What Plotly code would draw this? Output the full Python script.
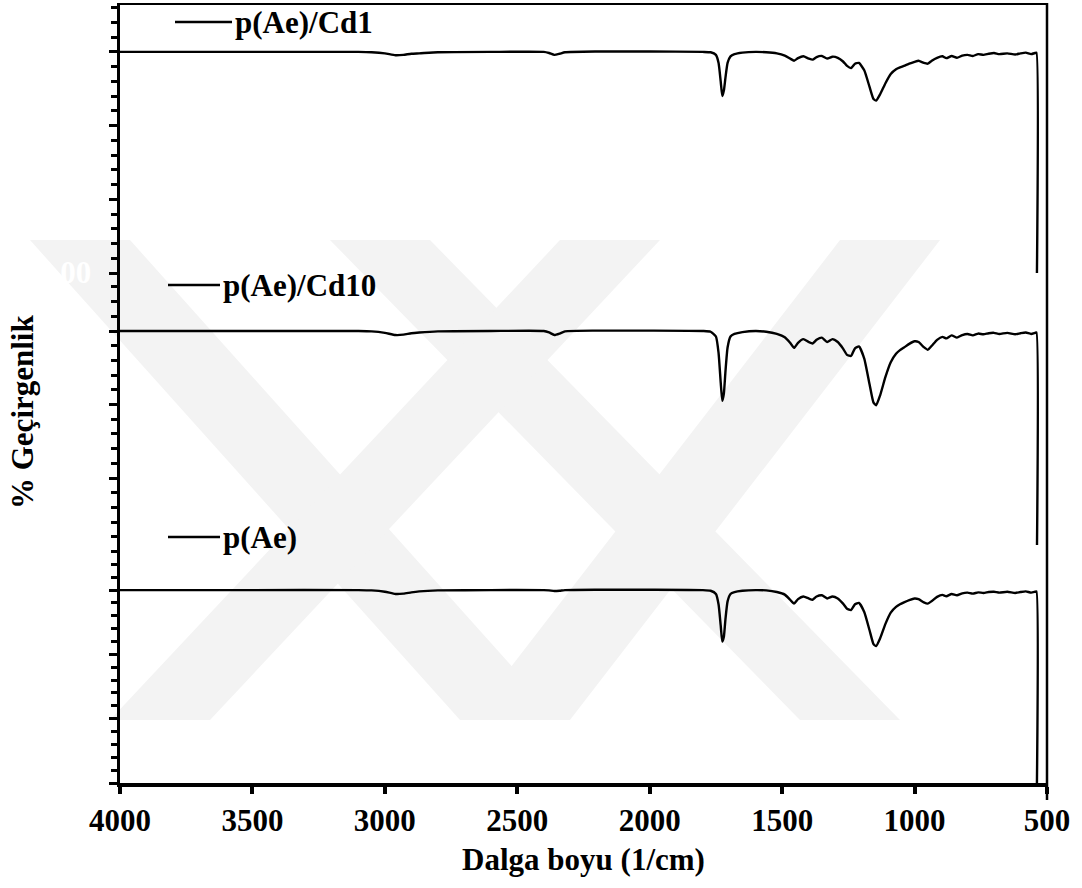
import plotly.graph_objects as go

# ---------------- data ----------------
wavenumber = [4000, 3500, 3100, 3050, 3000, 2960, 2930, 2900, 2870, 2800, 2600, 2400, 2380, 2360, 2340, 2320,
              2200, 2000, 1800, 1770, 1750, 1740, 1732, 1726, 1720, 1714, 1706, 1695, 1680, 1650, 1600, 1560,
              1520, 1490, 1470, 1455, 1440, 1420, 1400, 1385, 1370, 1350, 1330, 1310, 1290, 1270, 1255, 1240,
              1225, 1210, 1190, 1170, 1155, 1145, 1130, 1110, 1090, 1070, 1055, 1040, 1020, 1000, 985, 965,
              950, 935, 915, 895, 880, 860, 840, 820, 800, 780, 760, 740, 720, 700, 680, 650, 620, 600, 580,
              560, 545, 540, 538]

t_cd1 = [100, 100, 100, 99.9, 99.6, 99.1, 99.2, 99.5, 99.6, 99.9, 100, 100, 99.7, 99.2, 99.5, 99.9,
         100.1, 100.1, 100, 99.9, 99.2, 97, 92, 88, 89.5, 93, 97, 98.8, 99.4, 99.8, 100, 99.9,
         99.6, 99, 98.2, 97.6, 98.3, 98.8, 98.2, 97.9, 98.6, 98.9, 98.2, 98.7, 98.4, 97.4, 96.2, 95.6,
         96.8, 97.0, 95.0, 90.5, 87.2, 86.8, 88.5, 91.5, 94.0, 95.3, 95.8, 96.2, 96.8, 97.3, 97.6, 97.0,
         96.8, 97.6, 98.4, 98.8, 98.3, 98.9, 98.4, 99.0, 99.2, 98.9, 99.4, 99.2, 99.5, 99.7, 99.4, 99.6,
         99.3, 99.6, 99.8, 99.4, 99.7, 99.8, 40]

t_cd10 = [100, 100, 100, 99.9, 99.5, 98.9, 99.0, 99.4, 99.6, 99.9, 100, 100, 99.6, 98.9, 99.3, 99.9,
          100.1, 100.1, 100, 99.8, 98.5, 94, 86, 81, 83, 89, 95.5, 98.5, 99.2, 99.7, 100, 99.8,
          99.2, 98.3, 96.8, 95.4, 96.8, 97.8, 97.0, 96.6, 97.6, 98.2, 97.0, 97.8, 97.0, 95.2, 93.5, 93.2,
          95.3, 95.8, 92.5, 85.5, 80.5, 79.8, 82.5, 87.5, 91.5, 93.8, 94.8, 95.5, 96.5, 97.2, 97.0, 95.6,
          94.9, 96.0, 97.6, 98.4, 98.0, 98.8, 98.2, 98.9, 99.2, 98.8, 99.3, 99.1, 99.4, 99.5, 99.2, 99.5,
          99.1, 99.4, 99.6, 99.2, 99.5, 99.6, 40]

t_pae = [100, 100, 100, 99.9, 99.5, 98.8, 98.9, 99.3, 99.6, 99.9, 100, 100, 99.9, 99.7, 99.8, 100,
         100.1, 100.1, 100, 99.8, 98.8, 95.5, 89, 84, 85.5, 91, 96.5, 98.8, 99.4, 99.8, 100, 99.9,
         99.4, 98.6, 97.0, 95.8, 97.2, 98.0, 97.4, 97.0, 98.0, 98.4, 97.4, 98.0, 97.4, 95.8, 94.2, 93.8,
         95.6, 96.0, 93.2, 87.5, 83.2, 82.6, 85.0, 89.5, 93.0, 94.8, 95.6, 96.2, 96.9, 97.4, 97.2, 96.2,
         95.8, 96.6, 97.9, 98.5, 98.1, 98.8, 98.4, 99.0, 99.2, 98.9, 99.3, 99.1, 99.4, 99.5, 99.2, 99.5,
         99.1, 99.4, 99.6, 99.2, 99.5, 99.6, 40]

series_names = ["p(Ae)/Cd1", "p(Ae)/Cd10", "p(Ae)"]
x_ticks = [4000, 3500, 3000, 2500, 2000, 1500, 1000, 500]
x_title = "Dalga boyu (1/cm)"
y_title = "% Geçirgenlik"

# ---------------- figure ----------------
FONT = "Liberation Serif"
W, H = 1082, 888
ML, MR, MT, MB = 120, 35, 5, 105
PH = H - MT - MB


def py(px):  # pixel y -> paper y
    return (H - MB - px) / PH


def pxx(px):  # pixel x -> paper x
    return (px - ML) / (W - ML - MR)


fig = go.Figure()
LINE = dict(color="black", width=2.4, shape="spline", smoothing=0.5)
fig.add_trace(go.Scatter(x=wavenumber, y=t_cd1, mode="lines", yaxis="y3", name=series_names[0], line=LINE))
fig.add_trace(go.Scatter(x=wavenumber, y=t_cd10, mode="lines", yaxis="y2", name=series_names[1], line=LINE))
fig.add_trace(go.Scatter(x=wavenumber, y=t_pae, mode="lines", yaxis="y", name=series_names[2], line=LINE))

yax_common = dict(showline=True, linecolor="black", linewidth=3, ticks="outside", ticklen=8,
                  tickwidth=3, tickcolor="black", showticklabels=False, showgrid=False, zeroline=False,
                  tick0=0, dtick=20,
                  minor=dict(ticks="outside", ticklen=6, tickwidth=2.5, tickcolor="black", dtick=4,
                             showgrid=False))

fig.update_layout(
    width=W, height=H,
    margin=dict(l=ML, r=MR, t=MT, b=MB),
    paper_bgcolor="white", plot_bgcolor="rgba(0,0,0,0)",
    showlegend=False,
    font=dict(family=FONT, color="black"),
    xaxis=dict(range=[4000, 500], tickvals=x_ticks, ticks="outside", ticklen=7, tickwidth=4,
               tickcolor="black", showline=True, linecolor="black", linewidth=4, showgrid=False,
               zeroline=False, anchor="y",
               tickfont=dict(family=FONT, size=31, weight="bold", color="black"),
               title=dict(text=x_title, font=dict(family=FONT, size=31, weight="bold"), standoff=12)),
    xaxis2=dict(range=[4000, 500], matches="x", overlaying="x", anchor="y3", side="top",
                showline=True, linecolor="black", linewidth=2, showticklabels=False, ticks="",
                showgrid=False, zeroline=False),
    yaxis=dict(domain=[0, py(545)], range=[40, 40 + (783 - 545) / 3.215], **yax_common),
    yaxis2=dict(domain=[py(545), py(273)], range=[100 - (545 - 331) / 3.675, 100 + (331 - 273) / 3.675],
                **yax_common),
    yaxis3=dict(domain=[py(273), 1], range=[40, 40 + (273 - 5) / 3.685], **yax_common),
)

# dummy trace to show xaxis2
fig.add_trace(go.Scatter(x=[4000], y=[None], xaxis="x2", yaxis="y3", showlegend=False, hoverinfo="skip"))

# faint background watermark (diagonal bands)
WM = "#f3f3f3"
bands = [
    [(30, 240), (130, 240), (560, 720), (460, 720)],
    [(330, 240), (430, 240), (900, 720), (800, 720)],
    [(110, 720), (210, 720), (660, 240), (560, 240)],
    [(470, 720), (570, 720), (940, 240), (840, 240)],
]
for poly in bands:
    path = "M " + " L ".join(f"{pxx(x):.4f},{py(y):.4f}" for x, y in poly) + " Z"
    fig.add_shape(type="path", path=path, xref="paper", yref="paper", fillcolor=WM,
                  line=dict(width=0), layer="below")

fig.add_annotation(text="5.00", xref="paper", yref="paper", x=pxx(93), y=py(272), xanchor="right",
                   yanchor="middle", showarrow=False,
                   font=dict(family=FONT, size=31, weight="bold", color="white"))

# right border
fig.add_shape(type="line", xref="paper", yref="paper", x0=1.0, x1=1.0, y0=py(800), y1=py(3),
              line=dict(color="black", width=2.5))

# legend-like labels
labels = [(series_names[0], 175, 232, 22), (series_names[1], 168, 220, 285), (series_names[2], 168, 220, 537)]
for txt, x0, x1, yy in labels:
    fig.add_shape(type="line", xref="paper", yref="paper", x0=pxx(x0), x1=pxx(x1), y0=py(yy), y1=py(yy),
                  line=dict(color="black", width=2.4))
    fig.add_annotation(text=txt, xref="paper", yref="paper", x=pxx(x1 + 1), y=py(yy), xanchor="left",
                       yanchor="middle", showarrow=False,
                       font=dict(family=FONT, size=31, weight="bold", color="black"))

# y title
fig.add_annotation(text=y_title, xref="paper", yref="paper", x=pxx(22), y=py(412), textangle=-90,
                   showarrow=False, xanchor="center", yanchor="middle",
                   font=dict(family=FONT, size=31, weight="bold", color="black"))

fig.write_html("out.html")
